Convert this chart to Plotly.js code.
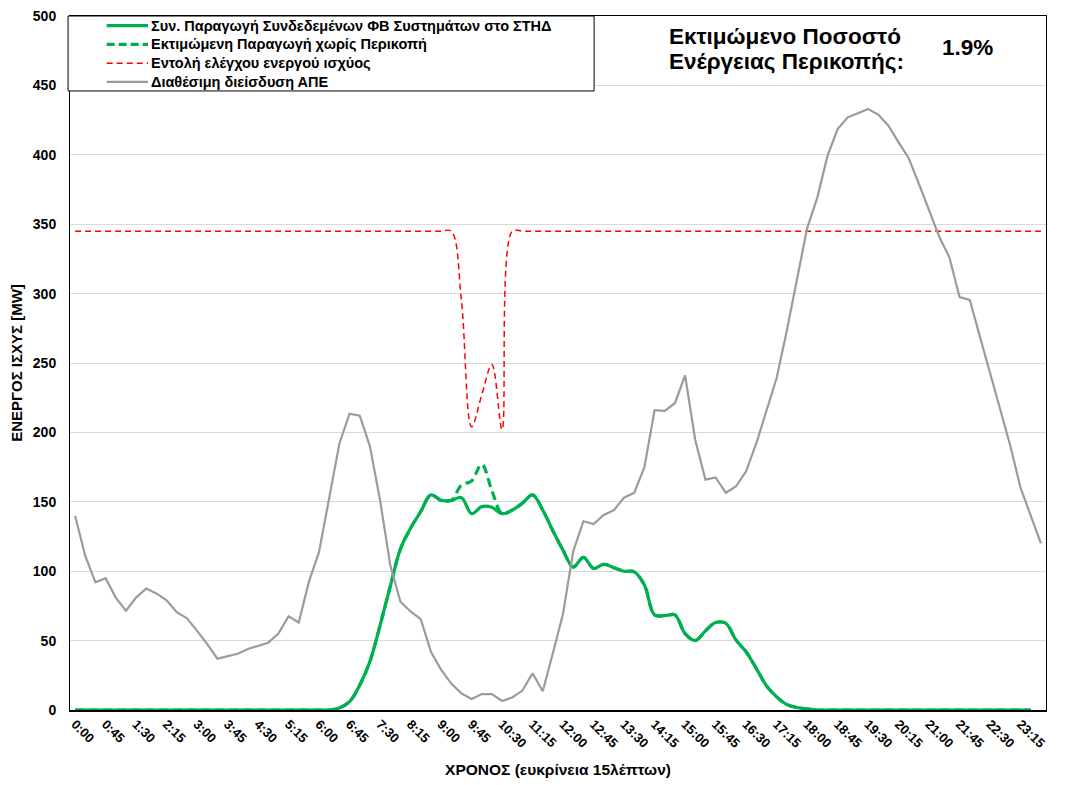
<!DOCTYPE html>
<html><head><meta charset="utf-8">
<script src="https://cdn.plot.ly/plotly-3.0.1.min.js"></script>
<style>html,body{margin:0;padding:0;background:#fff}#chart{width:1080px;height:785px}</style>
</head><body><div id="chart"></div>
<script>
// 15-minute time slots for one day
const times = [];
for (let h = 0; h < 24; h++) for (let m = 0; m < 60; m += 15) times.push(h + ':' + (m < 10 ? '0' + m : m));
const tickLabels = times.filter((t, i) => i % 3 === 0);

// Actual production of connected PV systems (MW)
const pvActual = [
  0,0,0,0,0,0,0,0,0,0,0,0,0,0,0,0,0,0,0,0,0,0,0,0,0,0,
  1.5,6,18,35,61,89,116,131,143,155,151,151,153,141.5,146.5,146,141.5,144,149,155,
  144,129,115,103,110,102,105,102.5,100,99.5,90,68.5,68,68.5,55,50,57,63,62.5,50.5,
  42,30,17.5,9.5,4,1.8,0.8,0,0,0,0,0,0,0,0,0,0,0,0,0,0,0,0,0,0,0,0,0,0
];
// Estimated production without curtailment (MW)
const pvNoCurtail = [
  0,0,0,0,0,0,0,0,0,0,0,0,0,0,0,0,0,0,0,0,0,0,0,0,0,0,
  1.5,6,18,35,61,89,116,131,143,155,151,151,162,165,177,158,141.5,144,149,155,
  144,129,115,103,110,102,105,102.5,100,99.5,90,68.5,68,68.5,55,50,57,63,62.5,50.5,
  42,30,17.5,9.5,4,1.8,0.8,0,0,0,0,0,0,0,0,0,0,0,0,0,0,0,0,0,0,0,0,0,0
];
// Active power control command (MW)
const activePowerCmd = [
  345,345,345,345,345,345,345,345,345,345,345,345,345,345,345,345,345,345,345,345,
  345,345,345,345,345,345,345,345,345,345,345,345,345,345,345,345,345,345,
  295,204,227,249,202,
  345,345,345,345,345,345,345,345,345,345,345,345,345,345,345,345,345,345,345,345,
  345,345,345,345,345,345,345,345,345,345,345,345,345,345,345,345,345,345,345,345,
  345,345,345,345,345,345,345,345,345,345,345,345,345
];
// Available RES penetration (MW)
const resPenetration = [
  140,111,92,95,81,71.5,81,87.5,84,79,70.5,66,57,47.5,37,38.5,40.5,44,46.5,48.5,
  55,67.5,63,92.5,114,154,192,213.5,212,190,151,104.5,78,71,65.5,42,29,19,12,8,
  11.5,11.5,6.5,9,14,26.5,13.5,41,69.5,114.5,136,134,140.5,144,153,156.5,175,216,215.5,221,
  241,194.5,166,167.5,156.5,161,172,192,215,239,273,310,347,369,399,418.5,427,430,433,429,
  421,409,397.5,379,360,341,326,297.5,295.5,269,242.5,216.5,190,160,140,120
];

const seriesNames = [
  'Συν. Παραγωγή Συνδεδεμένων ΦΒ Συστημάτων στο ΣΤΗΔ',
  'Εκτιμώμενη Παραγωγή χωρίς Περικοπή',
  'Εντολή ελέγχου ενεργού ισχύος',
  'Διαθέσιμη διείσδυση ΑΠΕ'
];
const seriesColors = ['#00b050', '#00b050', '#ff0000', '#9b9b9b'];
const seriesDash = ['solid', '9px,5px', '6px,4px', 'solid'];
const legendDash = ['solid', '8px,4px', '6px,4px', 'solid'];
const seriesWidth = [3.2, 3.2, 1.5, 2.2];
const curtailTitleLines = ['Εκτιμώμενο Ποσοστό', 'Ενέργειας Περικοπής:'];
const curtailValue = '1.9%';
const xTitle = 'ΧΡΟΝΟΣ (ευκρίνεια 15λέπτων)';
const yTitle = 'ΕΝΕΡΓΟΣ ΙΣΧΥΣ [MW]';

const FONT = 'Arial, "Liberation Sans", sans-serif';

const traces = [
  {x: times, y: pvNoCurtail, name: seriesNames[1], type: 'scatter', mode: 'lines',
   line: {color: seriesColors[1], width: seriesWidth[1], dash: seriesDash[1], shape: 'spline', smoothing: 1}},
  {x: times, y: pvActual, name: seriesNames[0], type: 'scatter', mode: 'lines',
   line: {color: seriesColors[0], width: seriesWidth[0], dash: seriesDash[0], shape: 'spline', smoothing: 1}},
  {x: times, y: activePowerCmd, name: seriesNames[2], type: 'scatter', mode: 'lines',
   line: {color: seriesColors[2], width: seriesWidth[2], dash: seriesDash[2], shape: 'spline', smoothing: 1}},
  {x: times, y: resPenetration, name: seriesNames[3], type: 'scatter', mode: 'lines',
   line: {color: seriesColors[3], width: seriesWidth[3], dash: seriesDash[3]}}
];

// custom legend box (paper coordinates)
const legX0 = -0.002, legX1 = 0.537, legY0 = 0.892, legY1 = 1;
const legRows = [0.986, 0.959, 0.932, 0.905];
const sampleX0 = 0.0376, sampleX1 = 0.0799, textX = 0.081;

const shapes = [{type: 'rect', xref: 'paper', yref: 'paper', x0: legX0, x1: legX1, y0: legY0, y1: legY1,
  line: {color: '#000', width: 1}, fillcolor: '#fff', layer: 'above'}];
const annotations = [];
seriesNames.forEach((n, i) => {
  shapes.push({type: 'line', xref: 'paper', yref: 'paper', x0: sampleX0, x1: sampleX1, y0: legRows[i], y1: legRows[i],
    line: {color: seriesColors[i], width: seriesWidth[i], dash: legendDash[i]}, layer: 'above'});
  annotations.push({xref: 'paper', yref: 'paper', x: textX, y: legRows[i], xanchor: 'left', yanchor: 'middle',
    text: '<b>' + n + '</b>', showarrow: false, font: {family: FONT, size: 14.5, color: '#000'}});
});
const titleRows = [0.970, 0.934];
curtailTitleLines.forEach((t, i) => {
  annotations.push({xref: 'paper', yref: 'paper', x: 0.612, y: titleRows[i], xanchor: 'left', yanchor: 'middle',
    text: '<b>' + t + '</b>', showarrow: false, font: {family: FONT, size: 22.5, color: '#000'}});
});
annotations.push({xref: 'paper', yref: 'paper', x: 0.891, y: 0.954, xanchor: 'left', yanchor: 'middle',
  text: '<b>' + curtailValue + '</b>', showarrow: false, font: {family: FONT, size: 22.5, color: '#000'}});

const layout = {
  width: 1080, height: 785,
  margin: {l: 70, r: 34, t: 16, b: 75},
  paper_bgcolor: '#fff', plot_bgcolor: '#fff',
  showlegend: false,
  font: {family: FONT, color: '#000'},
  xaxis: {
    type: 'category', categoryorder: 'array', categoryarray: times,
    range: [-0.5, 95.5], tickmode: 'array', tickvals: tickLabels, ticktext: tickLabels.map(t => '<b>' + t + '</b>'),
    tickangle: 45, tickfont: {family: FONT, size: 13, color: '#000'},
    showgrid: false, showline: true, linecolor: '#000', linewidth: 1.5, mirror: true, ticks: '', zeroline: false,
    title: {text: '<b>' + xTitle + '</b>', font: {family: FONT, size: 15.5, color: '#000'}, standoff: 14},
    automargin: false, fixedrange: true
  },
  yaxis: {
    range: [0, 500], dtick: 50, tick0: 0,
    tickfont: {family: FONT, size: 14, color: '#000'}, tickprefix: '<b>', ticksuffix: '</b>',
    showgrid: true, gridcolor: '#d9d9d9', gridwidth: 1, showline: true, linecolor: '#000', linewidth: 1, mirror: true,
    ticks: 'outside', ticklen: 10, tickcolor: 'rgba(0,0,0,0)', zeroline: false,
    title: {text: '<b>' + yTitle + '</b>', font: {family: FONT, size: 15, color: '#000'}, standoff: 6},
    automargin: false, fixedrange: true
  },
  shapes: shapes,
  annotations: annotations
};

Plotly.newPlot('chart', traces, layout, {displayModeBar: false, staticPlot: true});
</script>
</body></html>
